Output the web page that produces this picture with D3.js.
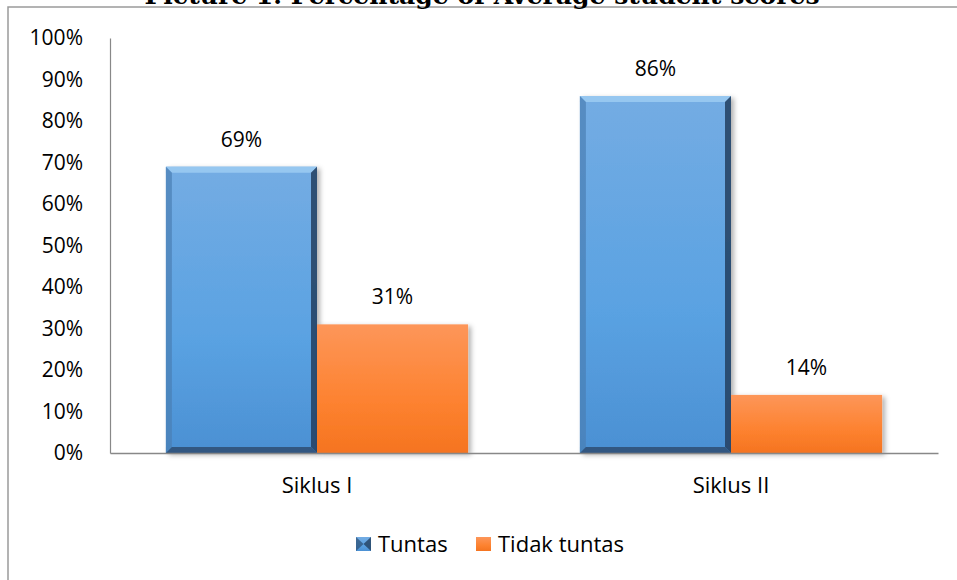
<!DOCTYPE html>
<html>
<head>
<meta charset="utf-8">
<script src="https://cdn.jsdelivr.net/npm/d3@7"></script>
<style>
  body { margin: 0; background: #fff; }
  text { font-family: "Open Sans", "Noto Sans", sans-serif; fill: #000; }
</style>
</head>
<body>
<div id="chart"></div>
<script>
// data
const categories = ["Siklus I", "Siklus II"];
const seriesNames = ["Tuntas", "Tidak tuntas"];
const tuntas = [0.69, 0.86];
const tidakTuntas = [0.31, 0.14];
const yTicks = [0, 0.1, 0.2, 0.3, 0.4, 0.5, 0.6, 0.7, 0.8, 0.9, 1.0];
const title = "Picture 1. Percentage of Average student scores";

const W = 957, H = 580;
const margin = {top: 38, right: 19, bottom: 127, left: 110};
const width = W - margin.left - margin.right,
      height = H - margin.top - margin.bottom;

const svg = d3.select("#chart").append("svg")
  .attr("width", W).attr("height", H);

const defs = svg.append("defs");

// gradients
const gBlue = defs.append("linearGradient").attr("id", "gBlue")
  .attr("x1", 0).attr("y1", 0).attr("x2", 0).attr("y2", 1);
gBlue.append("stop").attr("offset", "0%").attr("stop-color", "#74ace3");
gBlue.append("stop").attr("offset", "60%").attr("stop-color", "#5aa2e2");
gBlue.append("stop").attr("offset", "100%").attr("stop-color", "#4b90d3");

const gOrange = defs.append("linearGradient").attr("id", "gOrange")
  .attr("x1", 0).attr("y1", 0).attr("x2", 0).attr("y2", 1);
gOrange.append("stop").attr("offset", "0%").attr("stop-color", "#fd9659");
gOrange.append("stop").attr("offset", "60%").attr("stop-color", "#fd8230");
gOrange.append("stop").attr("offset", "100%").attr("stop-color", "#f57420");

const shadow = defs.append("filter").attr("id", "shadow")
  .attr("x", "-10%").attr("y", "-10%").attr("width", "130%").attr("height", "130%");
shadow.append("feDropShadow").attr("dx", 3).attr("dy", 2)
  .attr("stdDeviation", 2.5).attr("flood-color", "#000").attr("flood-opacity", 0.3);

// outer frame (chart area border, clipped at the top)
svg.append("path")
  .attr("d", `M8,${H} L8,7 L${W},7`)
  .attr("fill", "none").attr("stroke", "#9a9a9a").attr("stroke-width", 1.5);

// title, mostly cut off by the top edge like in the original
svg.append("text")
  .attr("x", 482).attr("y", 4)
  .attr("text-anchor", "middle")
  .attr("textLength", 675).attr("lengthAdjust", "spacingAndGlyphs")
  .style("font-family", "'DejaVu Serif', 'Liberation Serif', serif")
  .style("font-weight", "bold").style("font-size", "24px")
  .text(title);

const g = svg.append("g")
  .attr("transform", `translate(${margin.left},${margin.top})`);

const x0 = d3.scaleBand().domain(categories).range([0, width])
  .paddingInner(0.27).paddingOuter(0.135);
const x1 = d3.scaleBand().domain(seriesNames).range([0, x0.bandwidth()]);
const y = d3.scaleLinear().domain([0, 1]).range([height, 0]);

// y axis
const yAxis = g.append("g").call(d3.axisLeft(y).tickValues(yTicks)
  .tickFormat(d3.format(".0%")).tickSize(0).tickPadding(27));
yAxis.select(".domain").attr("stroke", "#888").attr("stroke-width", 1.2);
yAxis.selectAll("text").style("font-size", "21px");

// bars
const data = categories.map((c, i) => ({cat: c, vals: [tuntas[i], tidakTuntas[i]]}));
const groups = g.selectAll(".grp").data(data).enter().append("g")
  .attr("class", "grp")
  .attr("transform", d => `translate(${x0(d.cat)},0)`);

const bw = x1.bandwidth();
const bev = 6;

groups.each(function(d) {
  const grp = d3.select(this);
  d.vals.forEach((v, k) => {
    const bx = x1(seriesNames[k]), by = y(v), bh = height - y(v);
    const bar = grp.append("g").attr("filter", "url(#shadow)");
    bar.append("rect")
      .attr("x", bx).attr("y", by).attr("width", bw).attr("height", bh)
      .attr("fill", k === 0 ? "url(#gBlue)" : "url(#gOrange)");
    if (k === 0) {
      const x2 = bx + bw, y2 = by + bh;
      // bevel faces
      bar.append("polygon")
        .attr("points", [[bx, by], [x2, by], [x2 - bev, by + bev], [bx + bev, by + bev]].join(" "))
        .attr("fill", "#9ccbf2").attr("opacity", 0.85);
      bar.append("polygon")
        .attr("points", [[bx, by], [bx + bev, by + bev], [bx + bev, y2 - bev], [bx, y2]].join(" "))
        .attr("fill", "#4a7fb3").attr("opacity", 0.7);
      bar.append("polygon")
        .attr("points", [[x2, by], [x2, y2], [x2 - bev, y2 - bev], [x2 - bev, by + bev]].join(" "))
        .attr("fill", "#23405f").attr("opacity", 0.85);
      bar.append("polygon")
        .attr("points", [[bx, y2], [x2, y2], [x2 - bev, y2 - bev], [bx + bev, y2 - bev]].join(" "))
        .attr("fill", "#2b4d72").attr("opacity", 0.85);
    }
    grp.append("text")
      .attr("x", bx + bw / 2).attr("y", by - 20)
      .attr("text-anchor", "middle")
      .style("font-size", "21px")
      .text(d3.format(".0%")(v));
  });
});

// x axis
const xAxis = g.append("g").attr("transform", `translate(0,${height})`)
  .call(d3.axisBottom(x0).tickSize(0).tickPadding(24));
xAxis.select(".domain").attr("stroke", "#888").attr("stroke-width", 1.5);
xAxis.selectAll("text").style("font-size", "22px");

// legend
const legendItems = [
  {name: seriesNames[0], x: 356, fill: "url(#gBlue)"},
  {name: seriesNames[1], x: 476, fill: "url(#gOrange)"}
];
const lg = svg.append("g").attr("transform", "translate(0,544)");
const li = lg.selectAll(".li").data(legendItems).enter().append("g")
  .attr("transform", d => `translate(${d.x},0)`);
li.append("rect").attr("x", 0).attr("y", -7).attr("width", 15).attr("height", 14)
  .attr("fill", d => d.fill);
li.filter((d, i) => i === 0).append("path")
  .attr("d", "M0,-7 L7.5,0 L0,7 Z").attr("fill", "#2b4d72").attr("opacity", 0.7);
li.filter((d, i) => i === 0).append("path")
  .attr("d", "M15,-7 L7.5,0 L15,7 Z").attr("fill", "#23405f").attr("opacity", 0.8);
li.append("text").attr("x", 22).attr("y", 0).attr("dy", "0.35em")
  .style("font-size", "22px")
  .text(d => d.name);
</script>
</body>
</html>
